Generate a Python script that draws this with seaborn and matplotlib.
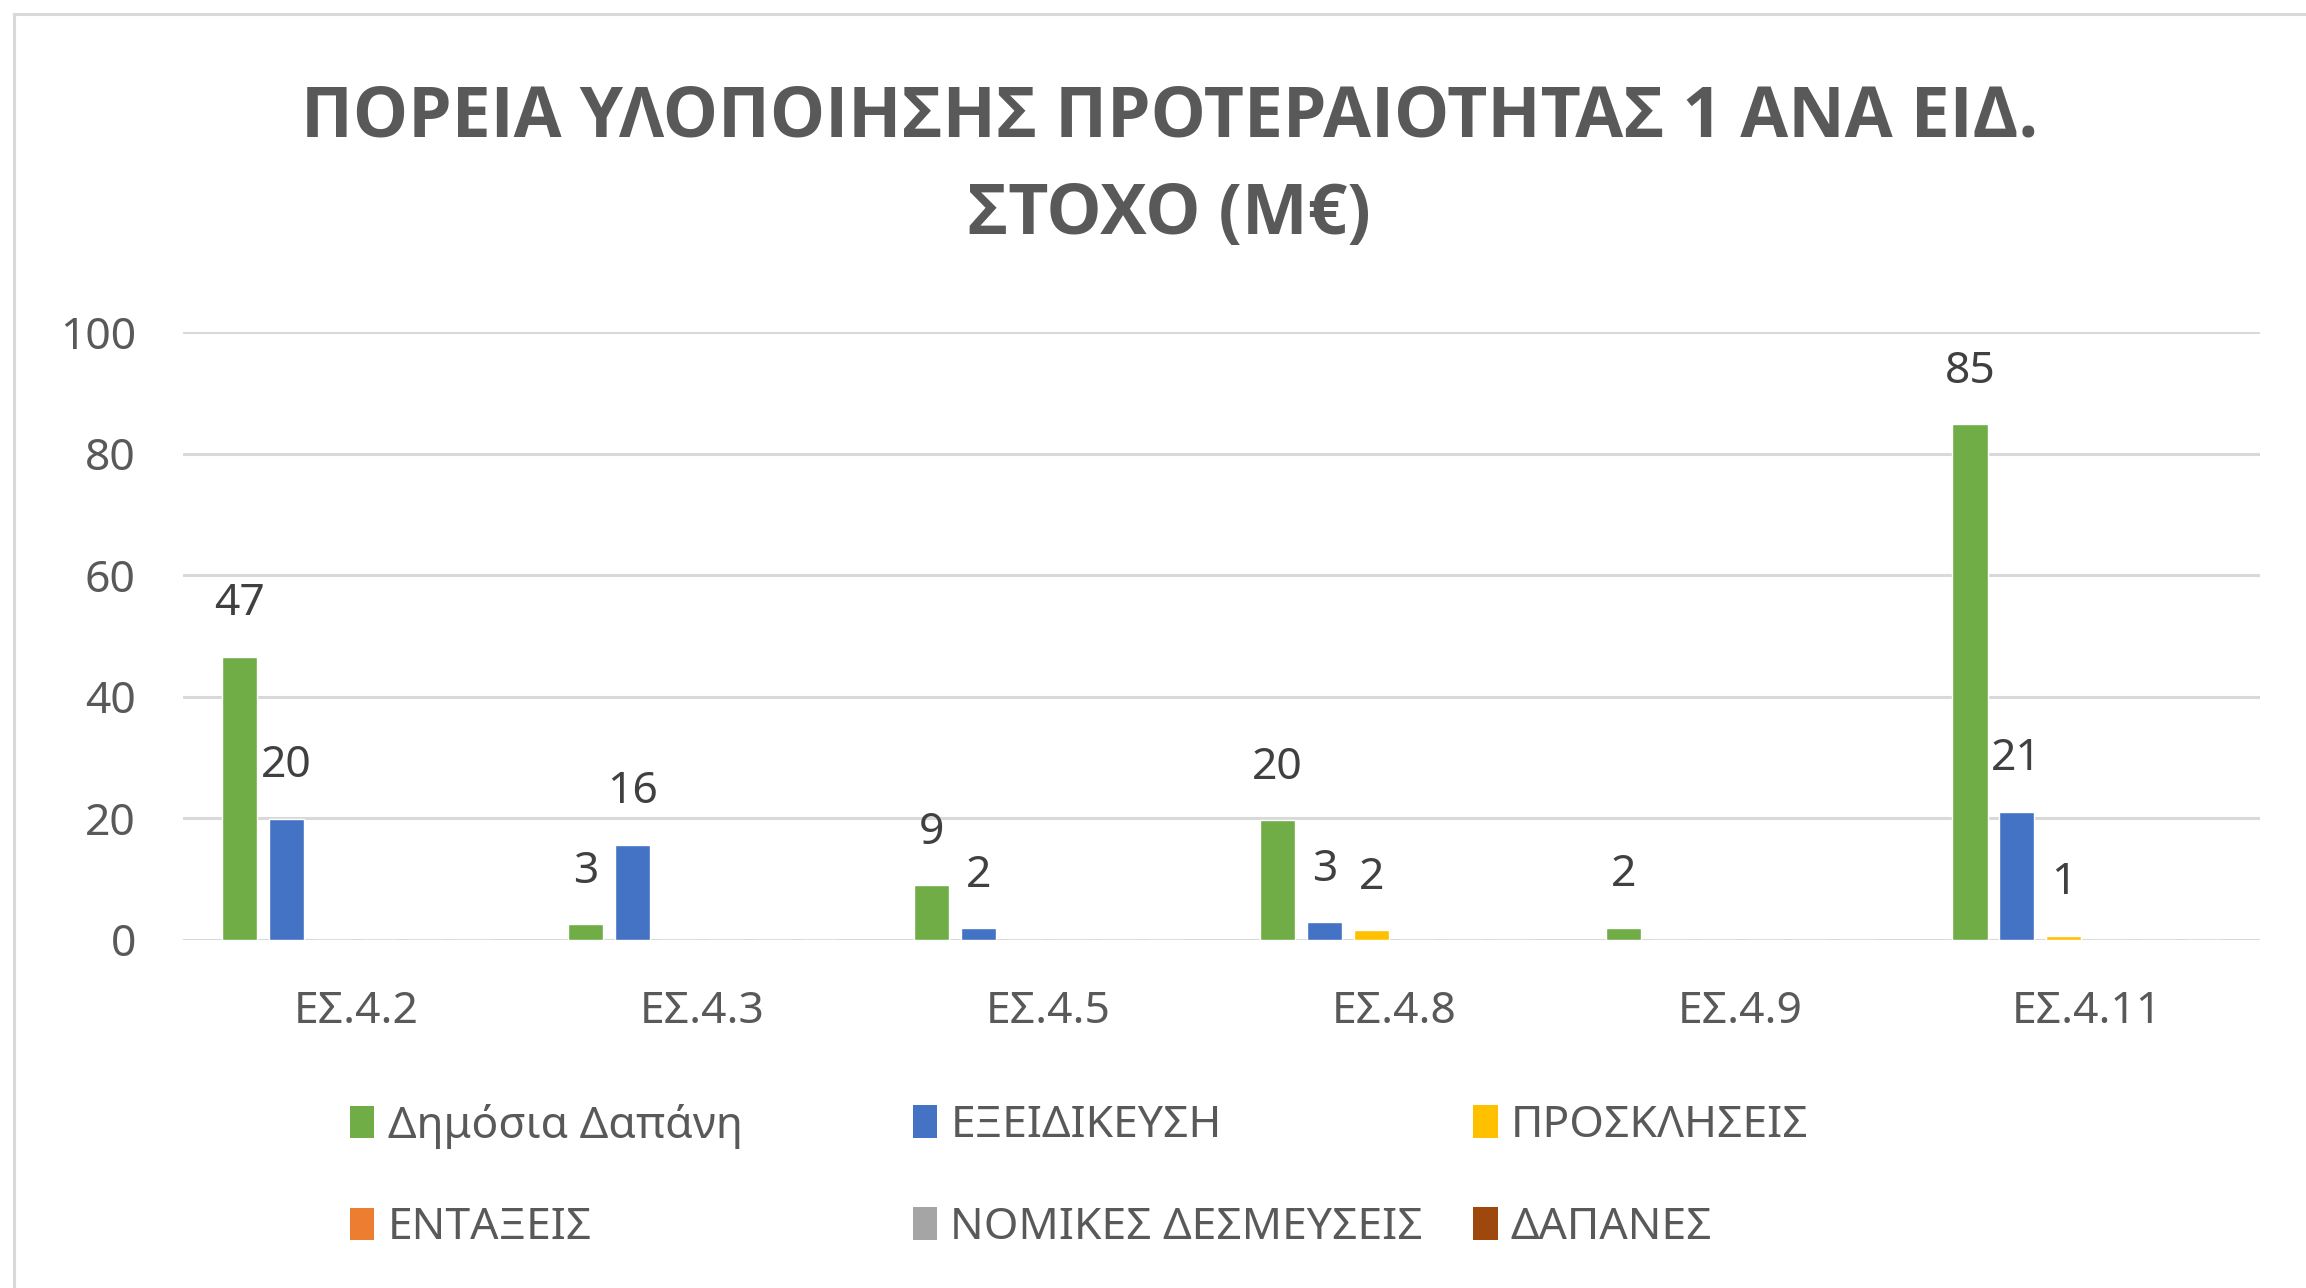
import pandas as pd
import matplotlib
matplotlib.use('Agg')
import matplotlib.pyplot as plt
from matplotlib.patches import Patch, Rectangle
import seaborn as sns

# ---- data ----
categories = ['ΕΣ.4.2', 'ΕΣ.4.3', 'ΕΣ.4.5', 'ΕΣ.4.8', 'ΕΣ.4.9', 'ΕΣ.4.11']
series = ['Δημόσια Δαπάνη', 'ΕΞΕΙΔΙΚΕΥΣΗ', 'ΠΡΟΣΚΛΗΣΕΙΣ',
          'ΕΝΤΑΞΕΙΣ', 'ΝΟΜΙΚΕΣ ΔΕΣΜΕΥΣΕΙΣ', 'ΔΑΠΑΝΕΣ']
dimosia = [46.6, 2.6, 9.0, 19.7, 2.0, 84.8]
exeidikeusi = [19.9, 15.7, 1.9, 2.9, 0, 21.1]
proskliseis = [0, 0, 0, 1.6, 0, 0.7]
entaxeis = [0, 0, 0, 0, 0, 0]
nomikes = [0, 0, 0, 0, 0, 0]
dapanes = [0, 0, 0, 0, 0, 0]
colors = ['#70AD47', '#4472C4', '#FFC000', '#ED7D31', '#A5A5A5', '#9E480E']

values = [dimosia, exeidikeusi, proskliseis, entaxeis, nomikes, dapanes]
rows = []
for s, vals in zip(series, values):
    for c, v in zip(categories, vals):
        rows.append({'cat': c, 'series': s, 'value': v})
df = pd.DataFrame(rows)
palette = dict(zip(series, colors))

# ---- style ----
sns.set_style('white')
plt.rcParams['font.family'] = ['Noto Sans', 'DejaVu Sans']
TXT = '#595959'

fig = plt.figure(figsize=(23.06, 12.88), dpi=100)
ax = fig.add_axes([0.0794, 0.2702, 0.9006, 0.4720])

sns.barplot(data=df, x='cat', y='value', hue='series', order=categories,
            hue_order=series, palette=palette, width=0.81, gap=0.25,
            saturation=1, legend=False, errorbar=None, ax=ax)

# value labels, only on non-zero bars
for cont, vals in zip(ax.containers, values):
    labels = ['%.0f' % v if v > 0 else '' for v in vals]
    ax.bar_label(cont, labels=labels, padding=22, fontsize=32, color='#404040')

ax.set_ylim(0, 100)
ax.set_xlim(-0.5, 5.5)
ax.set_yticks([0, 20, 40, 60, 80, 100])
ax.yaxis.grid(True, color='#D9D9D9', linewidth=2.2)
ax.set_axisbelow(True)
for sp in ax.spines.values():
    sp.set_visible(False)
ax.tick_params(axis='y', length=0, pad=34, labelsize=32, labelcolor=TXT)
ax.tick_params(axis='x', length=0, pad=36, labelsize=32, labelcolor=TXT)
ax.set_xlabel('')
ax.set_ylabel('')

title_font = ['Liberation Sans Narrow', 'Open Sans', 'DejaVu Sans']
fig.text(0.507, 0.908, 'ΠΟΡΕΙΑ ΥΛΟΠΟΙΗΣΗΣ ΠΡΟΤΕΡΑΙΟΤΗΤΑΣ 1 ΑΝΑ ΕΙΔ.',
         ha='center', va='center', fontsize=50, fontweight='bold', color=TXT,
         family=title_font)
fig.text(0.507, 0.832, 'ΣΤΟΧΟ (Μ€)',
         ha='center', va='center', fontsize=50, fontweight='bold', color=TXT,
         family=title_font)

# legend, one block per column
col_x = [0.1518, 0.3958, 0.6388]
for i, x in enumerate(col_x):
    idx = [i, i + 3]
    handles = [Patch(facecolor=colors[k], edgecolor='none') for k in idx]
    fig.legend(handles, [series[k] for k in idx], loc='center left',
               bbox_to_anchor=(x, 0.0862), bbox_transform=fig.transFigure,
               frameon=False, fontsize=32, labelcolor=TXT,
               handlelength=0.55, handleheight=0.75, handletextpad=0.3,
               labelspacing=1.3, borderaxespad=0, borderpad=0)

fig.patches.append(Rectangle((0.0061, -0.2), 1.2, 1.189, transform=fig.transFigure,
                             fill=False, edgecolor='#D9D9D9', linewidth=2.2))

fig.savefig('out.png', dpi=100)
